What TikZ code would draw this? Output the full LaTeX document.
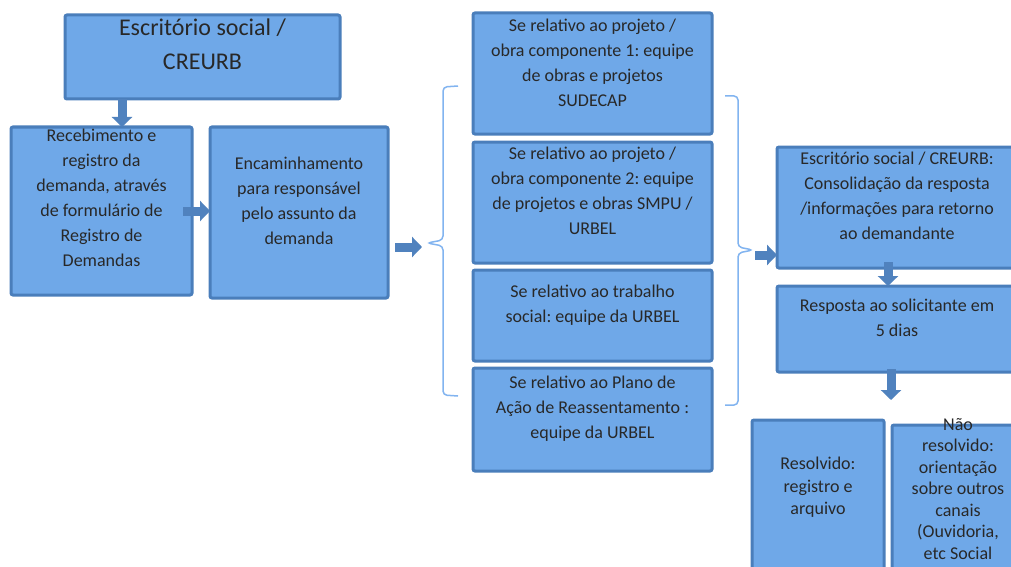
\documentclass[tikz,border=0pt]{standalone}
\usepackage{fontspec}
\setmainfont{Carlito}
\usetikzlibrary{arrows.meta}
\definecolor{boxfill}{RGB}{111,168,232}
\definecolor{boxdraw}{RGB}{74,126,187}
\definecolor{arrowc}{RGB}{80,130,190}
\definecolor{bracec}{RGB}{130,180,240}
\definecolor{txtc}{RGB}{40,40,40}
\frenchspacing
\begin{document}
\frenchspacing
\begin{tikzpicture}[x=1pt,y=-1pt,
  box/.style={draw=boxdraw, fill=boxfill, line width=3pt, rounded corners=2pt, inner sep=0pt, outer sep=0pt},
  txt/.style={text=txtc, align=center, inner sep=0pt, anchor=north, font=\fontsize{18}{25}\selectfont\frenchspacing},
  bigtxt/.style={txt, font=\fontsize{24}{34}\selectfont},
  blockarrow/.style={draw=arrowc, line width=9pt, -{Triangle[width=20pt 0, length=10pt 0]}},
  bracepath/.style={draw=bracec, line width=1.5pt, rounded corners=4pt}]
\fill[white] (0,0) rectangle (1011,567);
\useasboundingbox (0,0) rectangle (1011,567);

% boxes
\node[box, minimum width=275pt, minimum height=84pt] (top) at (202.5,57) {};
\node[box, minimum width=181pt, minimum height=168pt] (rec) at (101.5,211) {};
\node[box, minimum width=178pt, minimum height=171pt] (enc) at (299,212.5) {};
\node[box, minimum width=239pt, minimum height=121pt] (b1) at (592.5,73.5) {};
\node[box, minimum width=239pt, minimum height=121pt] (b2) at (592.5,202.5) {};
\node[box, minimum width=239pt, minimum height=91pt] (b3) at (592.5,315.5) {};
\node[box, minimum width=239pt, minimum height=103pt] (b4) at (592.5,419.5) {};
\node[box, minimum width=240pt, minimum height=121pt] (cons) at (897,207.5) {};
\node[box, minimum width=240pt, minimum height=86pt] (resp) at (897,329) {};
\node[box, minimum width=132pt, minimum height=170pt] (resolv) at (818,505) {};
\node[box, minimum width=132pt, minimum height=165pt] (nao) at (958,507.5) {};

% texts
\node[bigtxt] at (202.5,19) {Escritório social /\\CREURB};
\node[txt] at (101.5,129) {Recebimento e\\registro da\\demanda, através\\de formulário de\\Registro de\\Demandas};
\node[txt] at (299,157) {Encaminhamento\\para responsável\\pelo assunto da\\demanda};
\node[txt] at (592.5,19) {Se relativo ao projeto /\\obra componente 1: equipe\\de obras e projetos\\SUDECAP};
\node[txt] at (592.5,147) {Se relativo ao projeto /\\obra componente 2: equipe\\de projetos e obras SMPU /\\URBEL};
\node[txt] at (592.5,285) {Se relativo ao trabalho\\social: equipe da URBEL};
\node[txt] at (592.5,376) {Se relativo ao Plano de\\Ação de Reassentamento :\\equipe da URBEL};
\node[txt] at (897,152) {Escritório social / CREURB:\\Consolidação da resposta\\/informações para retorno\\ao demandante};
\node[txt] at (897,299) {Resposta ao solicitante em\\5 dias};
\node[txt, font=\fontsize{18}{22.5}\selectfont] at (818,457) {Resolvido:\\registro e\\arquivo};
\node[txt, font=\fontsize{18}{21.5}\selectfont] at (958,418) {Não\\resolvido:\\orientação\\sobre outros\\canais\\(Ouvidoria,\\etc Social};

% braces
\coordinate (lb) at (427,243);
\coordinate (rb) at (753,250);
\draw[bracepath] (458,86) -- (443,87) -- (443,240) -- (lb) -- (443,246) -- (443,395) -- (458,396);
\draw[bracepath] (725,96) -- (738,96) -- (738,247) -- (rb) -- (738,253) -- (738,405) -- (725,405);

% arrows
\coordinate (a1x) at (122,0);
\coordinate (a3) at (422,247);
\coordinate (a4) at (755,255);
\coordinate (a6) at (891,400);
\draw[blockarrow] (top.south -| a1x) -- (rec.north -| a1x);
\draw[blockarrow, shorten <=-9pt] (rec.east) -- (rec.east -| enc.west);
\draw[blockarrow, shorten <=7pt] (enc.east |- a3) -- (a3);
\draw[blockarrow] (a4) -- (a4 -| cons.west);
\draw[blockarrow, shorten <=-6pt] ([xshift=-9pt]cons.south) -- ([xshift=-9pt]cons.south |- resp.north);
\draw[blockarrow, shorten <=-3pt] (a6 |- resp.south) -- (a6);
\end{tikzpicture}
\end{document}
